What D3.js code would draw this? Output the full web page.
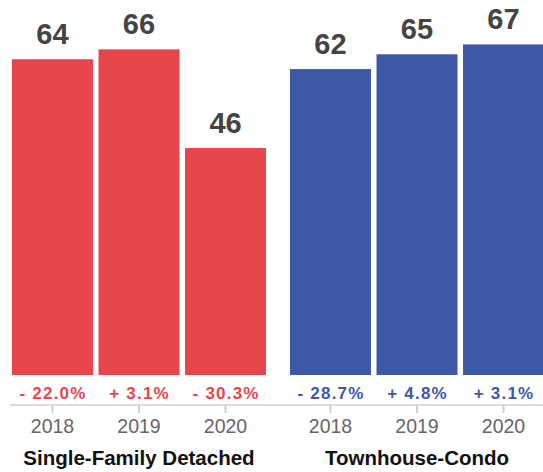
<!DOCTYPE html>
<html>
<head>
<meta charset="utf-8">
<script src="https://cdn.jsdelivr.net/npm/d3@7"></script>
<style>
  html, body { margin: 0; padding: 0; background: #fff; }
  svg { display: block; }
  text { font-family: "Liberation Sans", Arial, Helvetica, sans-serif; }
</style>
</head>
<body>
<svg id="chart" width="543" height="472"></svg>
<script>
const groups = ["Single-Family Detached", "Townhouse-Condo"];
const years = ["2018", "2019", "2020"];
const singleFamilyValues = [64, 66, 46];
const townhouseValues = [62, 65, 67];
const singleFamilyChanges = [-22.0, 3.1, -30.3];
const townhouseChanges = [-28.7, 4.8, 3.1];
const groupColors = ["#e8464d", "#3e58a8"];

const data = groups.map((g, gi) => ({
  group: g,
  color: groupColors[gi],
  items: years.map((y, i) => ({
    year: y,
    value: gi === 0 ? singleFamilyValues[i] : townhouseValues[i],
    change: gi === 0 ? singleFamilyChanges[i] : townhouseChanges[i]
  }))
}));

const svg = d3.select("#chart");

const x0 = d3.scaleBand().domain(groups).range([12, 544]).paddingInner(0.0863);
const x1 = d3.scaleBand().domain(years).range([0, x0.bandwidth()]).paddingInner(0.064);
const y = d3.scaleLinear().domain([0, 76]).range([375, 0]);

const fmt = v => (v < 0 ? "- " : "+ ") + Math.abs(v).toFixed(1) + "%";

// baseline axis line
svg.append("line")
  .attr("x1", 10).attr("x2", 543)
  .attr("y1", 405).attr("y2", 405)
  .attr("stroke", "#dcdcdc").attr("stroke-width", 2);

const g = svg.selectAll("g.group").data(data).join("g")
  .attr("class", "group")
  .attr("transform", d => `translate(${x0(d.group)},0)`);

g.selectAll("rect").data(d => d.items.map(it => ({...it, color: d.color}))).join("rect")
  .attr("x", d => x1(d.year))
  .attr("width", x1.bandwidth())
  .attr("y", d => y(d.value))
  .attr("height", d => y(0) - y(d.value))
  .attr("fill", d => d.color);

g.selectAll("text.val").data(d => d.items).join("text")
  .attr("class", "val")
  .attr("x", d => x1(d.year) + x1.bandwidth() / 2)
  .attr("y", d => y(d.value) - 15)
  .attr("text-anchor", "middle")
  .attr("font-size", 29)
  .attr("font-weight", "bold")
  .attr("fill", "#444")
  .text(d => d.value);

g.selectAll("text.chg").data(d => d.items.map(it => ({...it, color: d.color}))).join("text")
  .attr("class", "chg")
  .attr("x", d => x1(d.year) + x1.bandwidth() / 2 + 0.6)
  .attr("y", 398.5)
  .attr("text-anchor", "middle")
  .attr("font-size", 17)
  .attr("font-weight", "bold")
  .attr("letter-spacing", 1.2)
  .attr("fill", d => d.color)
  .text(d => fmt(d.change));

// axis with ticks
g.each(function() {
  const axis = d3.axisBottom(x1).tickSizeOuter(0).tickSizeInner(8).tickPadding(6);
  const ag = d3.select(this).append("g").attr("transform", "translate(0,405)").call(axis);
  ag.select(".domain").remove();
  ag.selectAll(".tick line").attr("stroke", "#d0d0d0").attr("stroke-width", 2);
  ag.selectAll(".tick text")
    .attr("font-size", 19.5)
    .attr("fill", "#666")
    .attr("font-family", "Liberation Sans, Arial, sans-serif");
});

g.append("text")
  .attr("x", x0.bandwidth() / 2)
  .attr("y", 465)
  .attr("text-anchor", "middle")
  .attr("font-size", 20.5)
  .attr("font-weight", "bold")
  .attr("fill", "#111")
  .text(d => d.group);
</script>
</body>
</html>
